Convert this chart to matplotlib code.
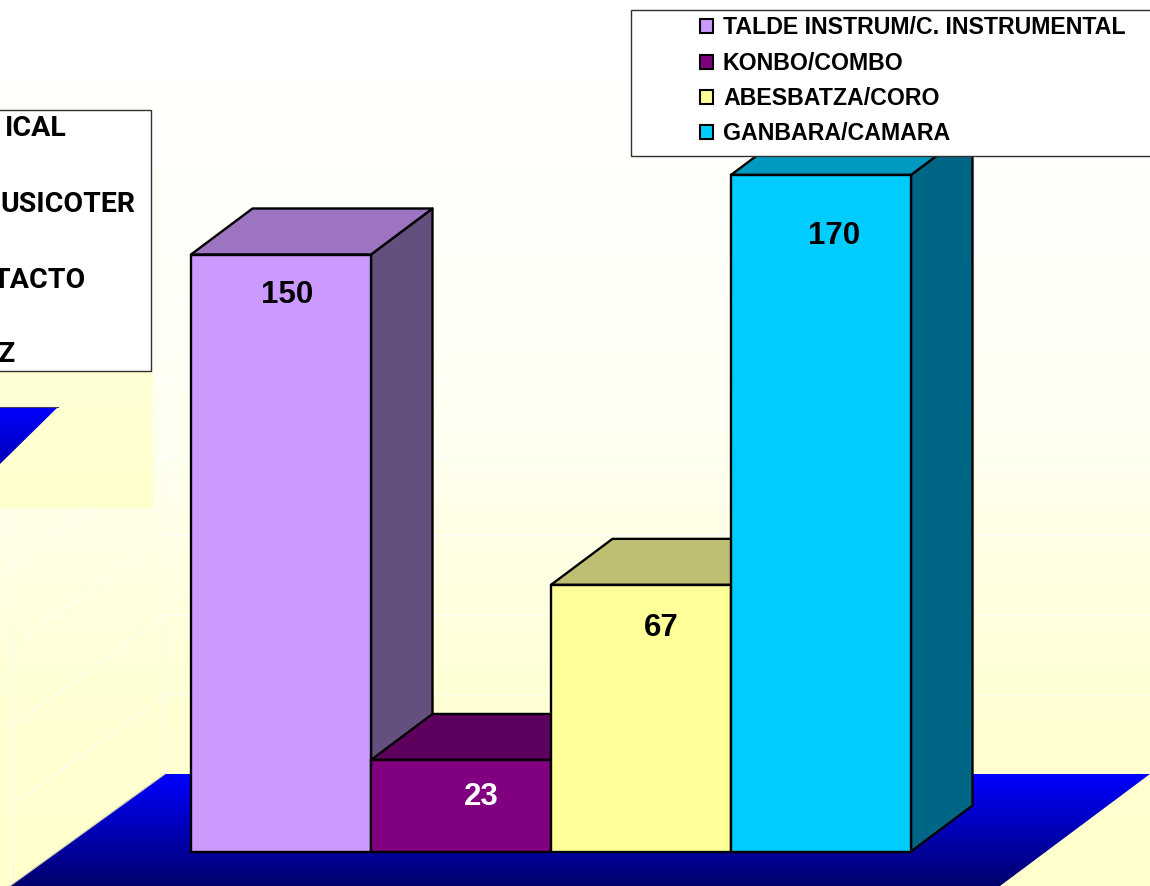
import numpy as np
import matplotlib
matplotlib.use("Agg")
import matplotlib.pyplot as plt
from matplotlib.patches import Polygon, Rectangle

plt.rcParams['font.family'] = ['Liberation Sans']

categories = ["TALDE INSTRUM/C. INSTRUMENTAL", "KONBO/COMBO", "ABESBATZA/CORO", "GANBARA/CAMARA"]
values = [150, 23, 67, 170]
front_colors = ["#CC99FF", "#800080", "#FFFF99", "#00CCFF"]
top_colors = ["#9C74BF", "#5E005E", "#BFBF73", "#0099BF"]
side_colors = ["#654F7E", "#400040", "#808050", "#006685"]
label_colors = ["black", "white", "black", "black"]
grid_values = [20, 40, 60, 80, 100, 120, 140, 160, 180]
cut_legend = ["ICAL", "USICOTER", "TACTO", "Z"]

W, H = 1150, 886
PX_PER_VALUE = 3.98
PX_PER_CAT = 180.0
X0, Y0 = 191.0, 851.5
DX = 61.5 / PX_PER_CAT
DY = 46.0 / PX_PER_VALUE

fig = plt.figure(figsize=(W / 100, H / 100), dpi=100)

# background layer, in pixel coordinates
bg = fig.add_axes([0, 0, 1, 1], zorder=0)
bg.set_xlim(0, W); bg.set_ylim(H, 0); bg.axis("off")
ys = np.arange(H)
blue = np.interp(ys, [0, 300, 450, 540, 700, 886], [255, 248, 240, 230, 212, 204])
img = np.stack([np.full(H, 255), np.full(H, 255), blue], axis=1)[:, None, :] / 255
bg.imshow(img, extent=(0, W, H, 0), aspect="auto", zorder=0)

WALL_FLOOR_Y = 774
for v in grid_values:
    y = WALL_FLOOR_Y - v * PX_PER_VALUE
    bg.plot([165, W], [y, y], color="white", lw=0.8, alpha=0.85, zorder=1)
    bg.plot([165, 10], [y, y + 113], color="white", lw=0.8, alpha=0.85, zorder=1)
bg.plot([165, 165], [WALL_FLOOR_Y, 54], color="white", lw=0.8, zorder=1)
bg.plot([10, 10], [H, 166], color="white", lw=0.8, zorder=1)

# floor with vertical gradient
grad = np.zeros((112, 1, 3))
grad[:, 0, 2] = np.linspace(1.0, 0.43, 112)
im = bg.imshow(grad, extent=(0, W, H, WALL_FLOOR_Y), aspect="auto", zorder=2)
floor = Polygon([(165, WALL_FLOOR_Y), (W, WALL_FLOOR_Y), (1000, H), (10, H)], closed=True,
                transform=bg.transData, fc="none", ec="none")
bg.add_patch(floor)
im.set_clip_path(floor)
bg.plot([165, 10], [WALL_FLOOR_Y, H], color="#C8C8B0", lw=0.8, zorder=3)
bg.set_xlim(0, W); bg.set_ylim(H, 0)

# fragment of the neighbouring chart
rect_grad = np.stack([np.ones(138), np.ones(138), np.linspace(0.84, 0.80, 138)], axis=1)[:, None, :]
bg.imshow(rect_grad, extent=(0, 153, 508, 370), aspect="auto", zorder=4)
tri_grad = np.zeros((57, 1, 3))
tri_grad[:, 0, 2] = np.linspace(1.0, 0.72, 57)
im2 = bg.imshow(tri_grad, extent=(0, 58, 464, 407), aspect="auto", zorder=5)
tri = Polygon([(0, 407), (58, 407), (0, 464)], closed=True, transform=bg.transData, fc="none", ec="none")
bg.add_patch(tri)
im2.set_clip_path(tri)
bg.plot([0, 58], [407, 407], color="#404060", lw=0.8, zorder=6)
bg.set_xlim(0, W); bg.set_ylim(H, 0)

# bars, in value coordinates
ax = fig.add_axes([0, 0, 1, 1], zorder=1)
ax.patch.set_alpha(0)
ax.axis("off")
ax.set_xlim(-X0 / PX_PER_CAT, (W - X0) / PX_PER_CAT)
ax.set_ylim(-(H - Y0) / PX_PER_VALUE, Y0 / PX_PER_VALUE)
label_x = [0.535, 1.611, 2.611, 3.572]
label_drop = [40, 37, 43, 61]
for i, v in enumerate(values):
    kw = dict(closed=True, ec="black", lw=1.7, joinstyle="round")
    ax.add_patch(Polygon([(i + 1, 0), (i + 1 + DX, DY), (i + 1 + DX, v + DY), (i + 1, v)], fc=side_colors[i], **kw))
    ax.add_patch(Polygon([(i, v), (i + DX, v + DY), (i + 1 + DX, v + DY), (i + 1, v)], fc=top_colors[i], **kw))
    ax.add_patch(Rectangle((i, 0), 1, v, fc=front_colors[i], ec="black", lw=1.7))
    ax.annotate(str(v), (label_x[i], v), xytext=(0, -label_drop[i] * 0.72), textcoords="offset points",
                ha="center", va="center", fontsize=22.5, fontweight="bold", color=label_colors[i])

# legends, in pixel coordinates
ov = fig.add_axes([0, 0, 1, 1], zorder=2)
ov.patch.set_alpha(0)
ov.axis("off")
ov.set_xlim(0, W); ov.set_ylim(H, 0)

ov.add_patch(Rectangle((630.5, 9.5), 540, 146.5, fc="white", ec="#303030", lw=1.0))
for name, c, y in zip(categories, front_colors, [27, 63, 98, 133]):
    ov.add_patch(Rectangle((700, y - 8), 13, 14, fc=c, ec="black", lw=1.5))
    ov.text(723, y, name, ha="left", va="center", fontsize=16.7, fontweight="bold", color="black")

ov.add_patch(Rectangle((-10, 109.5), 161, 261, fc="white", ec="#303030", lw=1.0))
for name, xr, y in zip(cut_legend, [67, 135, 86, 15], [128, 204, 280, 355]):
    ov.text(xr, y, name, ha="right", va="center", fontsize=20.5, fontweight="bold", color="black",
            family=["Roboto", "Liberation Sans"])

fig.savefig("out.png", dpi=100)
